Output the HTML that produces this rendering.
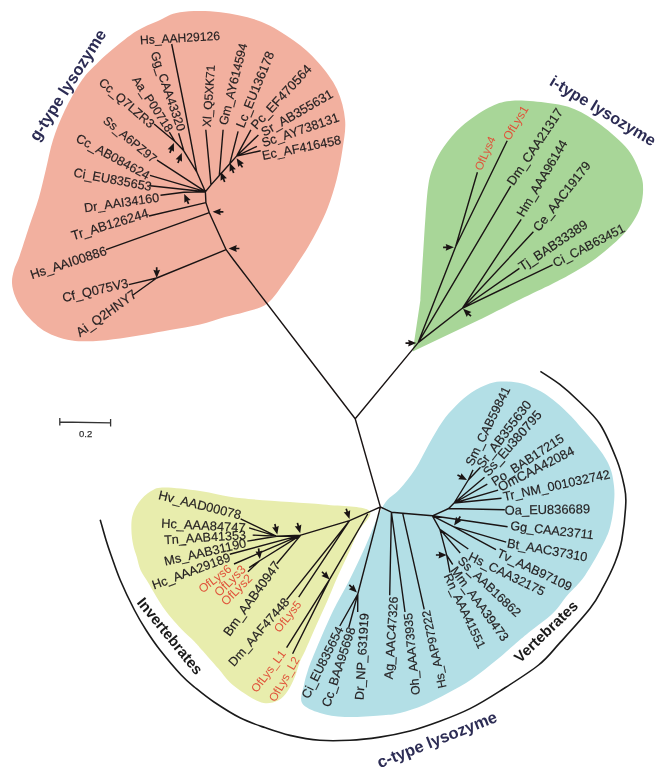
<!DOCTYPE html><html><head><meta charset="utf-8"><style>html,body{margin:0;padding:0;background:#fff;width:665px;height:772px;overflow:hidden}svg{display:block;will-change:transform}</style></head><body><svg width="665" height="772" viewBox="0 0 665 772"><path fill="#f2b09f" d="M180,12.2 C190.4,10.7 207.1,10.6 220.6,12.2 C234.1,13.8 249,17 261.2,21.7 C273.4,26.4 284.2,33.8 293.7,40.6 C303.2,47.4 310.8,54.2 318,62.3 C325.2,70.4 332.5,79.7 337,89.3 C341.5,98.9 344.2,109.9 345.1,120 C346,130.1 343.8,140 342.4,150 C341,160 338.9,170.5 336.5,180 C334.1,189.5 331,199 328,207 C325,215 321.8,221.4 318.5,228 C315.2,234.6 311.8,240.8 308.2,246.8 C304.6,252.8 300.8,258.3 297,264 C293.2,269.7 290.4,274.4 285.4,281 C280.4,287.6 273.7,298.6 267,303.8 C260.3,309 252,309.8 245,312 C238,314.2 232.5,314.9 225,317 C217.5,319.1 209.2,322.3 200,324.5 C190.8,326.7 179.2,328.3 170,330 C160.8,331.7 153.3,333.1 145,334.5 C136.7,335.9 128.7,337.4 120,338.5 C111.3,339.6 101,340.9 93,341.2 C85,341.5 78.3,341.4 72,340.5 C65.7,339.6 60.4,338.1 55,336 C49.6,333.9 44.8,331.7 39.7,327.7 C34.6,323.7 28.2,317.3 24.2,312.2 C20.1,307.1 17.4,301.9 15.4,297 C13.4,292.1 12.2,287.5 12,283 C11.8,278.5 12.8,274.4 14,270 C15.2,265.6 16.9,263.7 19.4,256.5 C21.9,249.3 25.8,236.8 29,227 C32.2,217.2 36,207.7 38.8,198 C41.6,188.3 43.6,178.7 46,169 C48.4,159.3 49.9,149.7 53,140 C56.1,130.3 59.7,121 64.5,111 C69.3,101 76.4,88.1 82,80 C87.6,71.9 92.8,67.8 98,62.5 C103.2,57.2 107.1,53.7 113.5,48.5 C119.9,43.3 128.8,35.9 136.2,31.3 C143.6,26.7 150.7,24.2 158,21 C165.3,17.8 169.6,13.7 180,12.2Z"/>
<path fill="#a8d698" d="M412.7,351.5 L420.4,300 C420.8,292.6 422.1,269.2 423,255.3 C423.9,241.4 424.6,228.4 425.5,216.5 C426.4,204.6 427.1,192.6 428.5,184 C429.9,175.4 431.4,170.9 434,164.7 C436.6,158.5 439.3,153 444,146.6 C448.7,140.2 454.5,132.5 462,126 C469.5,119.5 480.6,111.7 489,107.5 C497.4,103.3 502.4,101.5 512.2,100.8 C522,100 537.6,101.6 548,103 C558.4,104.4 565.9,105.5 574.7,109.2 C583.5,112.9 592.1,118.2 601,125 C609.9,131.8 621.7,141.7 628.3,150 C634.9,158.3 638.1,168 640.6,174.6 C643.1,181.2 643.1,184.1 643.1,189.4 C643.1,194.7 642.2,201.3 640.6,206.6 C639,211.9 636.4,216.3 633.5,221 C630.6,225.7 627.3,230.1 623.2,234.6 C619.1,239.1 614.2,243.3 608.7,248 C603.2,252.7 596.5,258.1 590,262.5 C583.5,266.9 576.3,270.9 570,274.5 C563.7,278.1 560.3,279.8 552,284 C543.7,288.2 532,293.6 520,299.5 C508,305.4 486.7,316.2 480,319.5 Z"/>
<path fill="#b3dfe6" d="M383.5,505.3 C389.1,496.1 394,495.6 399.3,489.6 C404.6,483.6 410.2,476.8 415.1,469.3 C420,461.8 424.2,452.3 428.7,444.4 C433.2,436.5 437.7,428.3 442.2,421.9 C446.7,415.5 450.8,411 455.7,406.1 C460.6,401.2 465.9,396.4 471.5,392.6 C477.1,388.8 484.2,385.4 489.6,383.5 C495,381.6 498.6,381.4 504,381.4 C509.4,381.4 516.8,382.3 522,383.5 C527.2,384.7 530.8,386.7 535,388.6 C539.2,390.6 543,392.5 547,395.2 C551,397.9 555.1,401.3 559.1,404.8 C563.1,408.3 567.5,412.6 571.1,416.3 C574.7,420 577.3,423.3 580.6,427.1 C583.9,430.9 587.6,434.9 591,439 C594.4,443.1 598.2,447.7 600.9,451.4 C603.6,455.1 605.2,457.6 607,461 C608.8,464.4 610.3,467.8 611.5,472 C612.7,476.2 613.5,481.3 614,486 C614.5,490.7 614.6,494.2 614.2,500 C613.8,505.8 613,514.3 611.5,521 C610,527.7 609.6,530.9 605.2,540 C600.8,549.1 591.3,566.2 585,575.4 C578.7,584.6 572.9,588.7 567.6,595 C562.3,601.3 559.5,606.8 553.1,613 C546.7,619.2 535.5,627 529,632.3 C522.5,637.6 519.5,640.4 514,645 C508.5,649.6 503.2,654.5 496.2,660.2 C489.2,665.9 480,673.5 472,679 C464,684.5 456,688.7 448,693 C440,697.3 432,701.7 424,705 C416,708.3 407.3,711.2 400,713 C392.7,714.8 389.2,714.8 380,715.5 C370.8,716.2 355,717.4 345,717 C335,716.6 327.2,715.3 320,713 C312.8,710.7 304.7,707.7 302,703 C299.3,698.3 303,690.5 304,685 C305,679.5 306.2,675.5 308,670 C309.8,664.5 310.9,661.7 315,652 C319.1,642.3 326.8,624 332.5,612 C338.2,600 343.9,591.2 349.5,580 C355.1,568.8 360.3,557.5 366,545 C371.7,532.5 377.9,514.5 383.5,505.3Z"/>
<path fill="#e8edad" d="M131.4,530 C131.3,525.1 131.2,520.5 132.4,515.9 C133.6,511.3 135.6,506.5 138.7,502.4 C141.8,498.2 146.7,493.5 151.1,491 C155.5,488.5 156.8,487.5 165,487.5 C173.2,487.5 187.2,489.2 200,491 C212.8,492.8 221.3,496.1 241.8,498.3 C262.3,500.5 301.8,502.4 323,504.4 C344.2,506.4 363.2,505.9 369,510.5 C374.8,515.1 361.4,524.9 358,532 C354.6,539.1 352.2,545.4 348.7,553.1 C345.2,560.8 340.6,569.9 337,578 C333.4,586.1 330.5,593.8 327,601.8 C323.5,609.8 319.6,618 316,626 C312.4,634 308.2,644 305.5,650 C302.8,656 301.6,657.6 299.8,662 C298.1,666.4 297,671.7 295,676.5 C293,681.3 290.5,686.9 287.7,690.9 C284.9,694.9 282.1,698.5 278.1,700.5 C274.1,702.5 268.7,703.7 263.7,702.9 C258.7,702.1 253.6,699.1 248,695.7 C242.4,692.3 234.9,687 230,682.5 C225.1,678 223,674 218.3,668.6 C213.6,663.2 205.9,654.5 201.9,650 C197.9,645.5 197.4,644.7 194.1,641.3 C190.8,637.9 185.8,633.8 182,629.8 C178.2,625.8 174.2,621.4 171,617.5 C167.8,613.6 165.2,610.5 162.5,606.5 C159.8,602.5 156.9,597.6 154.5,593.5 C152.1,589.4 150.1,585.9 147.8,582 C145.5,578.1 142.3,574.1 140.5,570 C138.7,565.9 138,561.3 136.8,557.1 C135.6,552.9 134.1,549.5 133.2,545 C132.3,540.5 131.5,534.9 131.4,530Z"/>
<path fill="none" stroke="#1a1a1a" stroke-width="1.6" d="M100.2,519.7 C101.2,523.1 104.2,534.1 106,540 C107.8,545.9 108.6,548.3 111,555 C113.4,561.7 116.3,570.8 120.2,580 C124.1,589.2 130.1,601.7 134.4,610 C138.7,618.3 141.7,623.3 146,630 C150.3,636.7 154.1,642.5 160,650 C165.9,657.5 175.4,668.8 181.2,675 C187,681.2 189.5,683 195,687.5 C200.5,692 206.5,697 214,702 C221.5,707 231.5,713.5 240,717.8 C248.5,722.1 256.5,724.7 264.8,727.6 C273.1,730.5 280.8,733.3 290,735.4 C299.2,737.5 309.8,739.5 319.8,740.3 C329.8,741.1 340,740.8 350,740.3 C360,739.8 369.8,738.6 379.8,737.1 C389.8,735.6 400,733.6 410,731 C420,728.4 429.8,724.9 439.8,721.2 C449.8,717.5 460,713.6 470,708.6 C480,703.6 488.4,698.4 499.8,691.1 C511.2,683.8 528.6,673 538.6,665 C548.6,657 551.2,652.3 559.8,642.9 C568.4,633.5 582.8,617.9 590,608.6 C597.2,599.3 599,594.9 603.1,587.2 C607.2,579.6 611.8,570.6 614.9,562.7 C618,554.8 620,550 621.8,540 C623.6,530 625.4,512.2 625.8,503 C626.2,493.8 625.5,492.2 624,485 C622.5,477.8 620.8,470.1 616.8,460 C612.8,449.9 606.5,434.1 600,424.2 C593.5,414.3 584.7,407.1 578,400.5 C571.3,393.9 566.1,389.3 559.8,384.4 C553.5,379.5 543.6,373.5 540.4,371.3"/>
<path fill="none" stroke="#1a1414" stroke-width="1.4" stroke-linejoin="round" d="M302.5,350 L355.2,418.8 L418.2,342.6 M355.2,418.8 L380.4,507 M302.5,350 L233.7,260 L226.1,249.7 L209.3,212.7 L205.9,202.6 L205.4,191.7 M209.3,212.7 L106,249.6 M226.1,249.7 L156.7,278 L133,295 M156.7,278 L128.8,284.6 M205.9,202.6 L149,216 M205.4,191.7 L183.8,192.3 M183.8,192.3 L160.5,195.2 M205.4,191.7 L150,185.8 M205.4,191.7 L150,175.3 M205.4,191.7 L157,160.2 M205.4,191.7 L196.7,171.8 L185,110 L171.7,44 M196.7,171.8 L183.8,150.8 L175,141.5 L154.1,124 M175,141.5 L169.3,132.2 M183.8,150.8 L178.6,133.3 M205.4,191.7 L211,184.9 L219.3,175.5 L229.8,163.7 L236.6,156.1 M211,184.9 L205.8,129.8 M219.3,175.5 L223.1,129.8 M229.8,163.7 L238.1,131.3 M236.6,156.1 L250.9,129.8 M236.6,156.1 L258.4,135 M236.6,156.1 L256.9,146.3 M236.6,156.1 L260.7,150.8 M418.2,342.6 L455.6,246.8 L477.4,172.2 M455.6,246.8 L507.2,140.7 M418.2,342.6 L510.7,186.2 M418.2,342.6 L462.3,308.3 L521.2,219.4 M462.3,308.3 L533.4,231.7 M462.3,308.3 L519.4,268.4 M462.3,308.3 L552.6,264.9 M380.4,507 L349.5,520.7 L300.8,535.1 L276.7,536.3 M276.7,536.3 L240.6,518.8 M276.7,536.3 L249.1,527.9 M276.7,536.3 L252.7,535.1 M276.7,536.3 L247.3,541.1 M300.8,535.1 L229.8,554.3 M300.8,535.1 L234,564 M300.8,535.1 L259.3,561 L249.1,567.6 M259.3,561 L247.9,571.8 M300.8,535.1 L276.7,563.8 M349.5,520.7 L286.6,599.6 M349.5,520.7 L298.7,597.2 M367.7,514 L329.6,579.4 L286.6,647.7 M329.6,579.4 L292.6,653.8 M380.4,507 L357.8,594 M357.8,594 L339.8,626 M357.8,594 L348.8,627.3 M357.8,594 L357.7,612 M380.4,507 L391.4,512.2 L402.7,513.3 L432.4,515.8 M391.4,512.2 L389.7,595.3 M391.4,512.2 L405,612 M402.7,513.3 L424.2,609.4 M432.4,515.8 L448.7,508.5 L454.1,503 L468.3,480 M448.7,508.5 L504.8,509.8 M454.1,503 L501.5,498.3 M454.1,503 L498.1,490.2 M454.1,503 L487.3,484.1 M454.1,503 L484.5,477.3 M468.3,480 L480.5,467.2 M468.3,480 L473,469.9 M432.4,515.8 L507.6,526.7 M432.4,515.8 L453.4,526.7 L506.2,542.2 M453.4,526.7 L496,549.7 M432.4,515.8 L439.9,529.4 L468.3,549 M439.9,529.4 L460.2,553 M439.9,529.4 L446.7,555.1 L452.7,564.5 M446.7,555.1 L450,572.7"/>
<g fill="#1a1414"><path transform="translate(212.6,211.8) rotate(180)" d="M0,0 L-8.2,-3.4 L-7.3,0 L-8.2,3.4Z M-7.3,-0.85 L-10.8,-0.85 L-10.8,0.85 L-7.3,0.85Z"/><path transform="translate(228.6,248.5) rotate(180)" d="M0,0 L-8.2,-3.4 L-7.3,0 L-8.2,3.4Z M-7.3,-0.85 L-10.8,-0.85 L-10.8,0.85 L-7.3,0.85Z"/><path transform="translate(156.7,278) rotate(90)" d="M0,0 L-8.2,-3.4 L-7.3,0 L-8.2,3.4Z M-7.3,-0.85 L-10.8,-0.85 L-10.8,0.85 L-7.3,0.85Z"/><path transform="translate(184.2,194) rotate(-114)" d="M0,0 L-8.2,-3.4 L-7.3,0 L-8.2,3.4Z M-7.3,-0.85 L-10.8,-0.85 L-10.8,0.85 L-7.3,0.85Z"/><path transform="translate(173.9,142.9) rotate(-68)" d="M0,0 L-8.2,-3.4 L-7.3,0 L-8.2,3.4Z M-7.3,-0.85 L-10.8,-0.85 L-10.8,0.85 L-7.3,0.85Z"/><path transform="translate(181.8,152.9) rotate(-69)" d="M0,0 L-8.2,-3.4 L-7.3,0 L-8.2,3.4Z M-7.3,-0.85 L-10.8,-0.85 L-10.8,0.85 L-7.3,0.85Z"/><path transform="translate(220.8,171.9) rotate(-111)" d="M0,0 L-8.2,-3.4 L-7.3,0 L-8.2,3.4Z M-7.3,-0.85 L-10.8,-0.85 L-10.8,0.85 L-7.3,0.85Z"/><path transform="translate(229.8,162.9) rotate(-111)" d="M0,0 L-8.2,-3.4 L-7.3,0 L-8.2,3.4Z M-7.3,-0.85 L-10.8,-0.85 L-10.8,0.85 L-7.3,0.85Z"/><path transform="translate(236.6,158.3) rotate(-123)" d="M0,0 L-8.2,-3.4 L-7.3,0 L-8.2,3.4Z M-7.3,-0.85 L-10.8,-0.85 L-10.8,0.85 L-7.3,0.85Z"/><path transform="translate(416.3,343.1) rotate(0)" d="M0,0 L-8.2,-3.4 L-7.3,0 L-8.2,3.4Z M-7.3,-0.85 L-10.8,-0.85 L-10.8,0.85 L-7.3,0.85Z"/><path transform="translate(453.9,247.3) rotate(0)" d="M0,0 L-8.2,-3.4 L-7.3,0 L-8.2,3.4Z M-7.3,-0.85 L-10.8,-0.85 L-10.8,0.85 L-7.3,0.85Z"/><path transform="translate(463.1,308.8) rotate(-137)" d="M0,0 L-8.2,-3.4 L-7.3,0 L-8.2,3.4Z M-7.3,-0.85 L-10.8,-0.85 L-10.8,0.85 L-7.3,0.85Z"/><path transform="translate(349.5,519) rotate(72)" d="M0,0 L-8.2,-3.4 L-7.3,0 L-8.2,3.4Z M-7.3,-0.85 L-10.8,-0.85 L-10.8,0.85 L-7.3,0.85Z"/><path transform="translate(300.2,533.3) rotate(75)" d="M0,0 L-8.2,-3.4 L-7.3,0 L-8.2,3.4Z M-7.3,-0.85 L-10.8,-0.85 L-10.8,0.85 L-7.3,0.85Z"/><path transform="translate(277.3,534.5) rotate(77)" d="M0,0 L-8.2,-3.4 L-7.3,0 L-8.2,3.4Z M-7.3,-0.85 L-10.8,-0.85 L-10.8,0.85 L-7.3,0.85Z"/><path transform="translate(259.9,559.1) rotate(83)" d="M0,0 L-8.2,-3.4 L-7.3,0 L-8.2,3.4Z M-7.3,-0.85 L-10.8,-0.85 L-10.8,0.85 L-7.3,0.85Z"/><path transform="translate(329.6,579.4) rotate(45)" d="M0,0 L-8.2,-3.4 L-7.3,0 L-8.2,3.4Z M-7.3,-0.85 L-10.8,-0.85 L-10.8,0.85 L-7.3,0.85Z"/><path transform="translate(356.9,592.6) rotate(45)" d="M0,0 L-8.2,-3.4 L-7.3,0 L-8.2,3.4Z M-7.3,-0.85 L-10.8,-0.85 L-10.8,0.85 L-7.3,0.85Z"/><path transform="translate(467,480) rotate(28)" d="M0,0 L-8.2,-3.4 L-7.3,0 L-8.2,3.4Z M-7.3,-0.85 L-10.8,-0.85 L-10.8,0.85 L-7.3,0.85Z"/><path transform="translate(454.1,525.4) rotate(125)" d="M0,0 L-8.2,-3.4 L-7.3,0 L-8.2,3.4Z M-7.3,-0.85 L-10.8,-0.85 L-10.8,0.85 L-7.3,0.85Z"/><path transform="translate(446.7,555) rotate(0)" d="M0,0 L-8.2,-3.4 L-7.3,0 L-8.2,3.4Z M-7.3,-0.85 L-10.8,-0.85 L-10.8,0.85 L-7.3,0.85Z"/></g>
<g font-family="Liberation Sans, sans-serif" stroke-width="0.18"><text transform="translate(140,40) rotate(-3.3)" dy="0.36em" fill="#231f20" stroke="#231f20" font-size="12.1">Hs_AAH29126</text><text transform="translate(182.1,130.5) rotate(70.8)" dy="0.36em" fill="#231f20" stroke="#231f20" font-size="12.4" text-anchor="end">Gg_CAA43320</text><text transform="translate(170.5,130.5) rotate(56.6)" dy="0.36em" fill="#231f20" stroke="#231f20" font-size="12.2" text-anchor="end">Aa_P00718</text><text transform="translate(153,125.3) rotate(40.8)" dy="0.36em" fill="#231f20" stroke="#231f20" font-size="12.4" text-anchor="end">Cc_Q7LZR3</text><text transform="translate(155.3,160) rotate(39.6)" dy="0.36em" fill="#231f20" stroke="#231f20" font-size="12.2" text-anchor="end">Ss_A6PZ97</text><text transform="translate(149,176) rotate(28.5)" dy="0.36em" fill="#231f20" stroke="#231f20" font-size="12.7" text-anchor="end">Cc_AB084624</text><text transform="translate(151.6,186.5) rotate(10.5)" dy="0.36em" fill="#231f20" stroke="#231f20" font-size="12.7" text-anchor="end">Ci_EU835653</text><text transform="translate(159,197) rotate(-8.1)" dy="0.36em" fill="#231f20" stroke="#231f20" font-size="12.6" text-anchor="end">Dr_AAI34160</text><text transform="translate(148,212.5) rotate(-16.9)" dy="0.36em" fill="#231f20" stroke="#231f20" font-size="13" text-anchor="end">Tr_AB126244</text><text transform="translate(106,250) rotate(-18.2)" dy="0.36em" fill="#231f20" stroke="#231f20" font-size="12.9" text-anchor="end">Hs_AAI00886</text><text transform="translate(128,282.5) rotate(-13.1)" dy="0.36em" fill="#231f20" stroke="#231f20" font-size="12.9" text-anchor="end">Cf_Q075V3</text><text transform="translate(135,292.5) rotate(-35.4)" dy="0.36em" fill="#231f20" stroke="#231f20" font-size="13" text-anchor="end">Ai_Q2HNY7</text><text transform="translate(206.4,126.9) rotate(-86.1)" dy="0.36em" fill="#231f20" stroke="#231f20" font-size="11.9">Xl_Q5XK71</text><text transform="translate(222.6,124.7) rotate(-75.8)" dy="0.36em" fill="#231f20" stroke="#231f20" font-size="12.4">Gm_AY614594</text><text transform="translate(239.5,127) rotate(-67.7)" dy="0.36em" fill="#231f20" stroke="#231f20" font-size="12.8">Lc_EU136178</text><text transform="translate(253,127) rotate(-47.2)" dy="0.36em" fill="#231f20" stroke="#231f20" font-size="13">Pc_EF470564</text><text transform="translate(262,132.6) rotate(-29.8)" dy="0.36em" fill="#231f20" stroke="#231f20" font-size="12.9">Sr_AB355631</text><text transform="translate(262,143) rotate(-19.1)" dy="0.36em" fill="#231f20" stroke="#231f20" font-size="12.8">Sc_AY738131</text><text transform="translate(262,155.5) rotate(-11.5)" dy="0.36em" fill="#231f20" stroke="#231f20" font-size="12.7">Ec_AF416458</text><text transform="translate(477.7,169.7) rotate(-66.3)" dy="0.36em" fill="#e0533a" font-size="11.4">OfLys4</text><text transform="translate(505.8,139) rotate(-59.1)" dy="0.36em" fill="#e0533a" font-size="12.1">OfLys1</text><text transform="translate(509.6,183.7) rotate(-56)" dy="0.36em" fill="#231f20" stroke="#231f20" font-size="12.9">Dm_CAA21317</text><text transform="translate(519.6,215.5) rotate(-59.3)" dy="0.36em" fill="#231f20" stroke="#231f20" font-size="12.6">Hm_AAA96144</text><text transform="translate(535.5,229.5) rotate(-51.8)" dy="0.36em" fill="#231f20" stroke="#231f20" font-size="12.7">Ce_AAC19179</text><text transform="translate(519.6,267.4) rotate(-33.8)" dy="0.36em" fill="#231f20" stroke="#231f20" font-size="13">Tj_BAB33389</text><text transform="translate(553.4,263.4) rotate(-27.2)" dy="0.36em" fill="#231f20" stroke="#231f20" font-size="12.5">Ci_CAB63451</text><text transform="translate(241,515) rotate(14)" dy="0.36em" fill="#231f20" stroke="#231f20" font-size="12.8" text-anchor="end">Hv_AAD00078</text><text transform="translate(245.6,527.6) rotate(3.2)" dy="0.36em" fill="#231f20" stroke="#231f20" font-size="12.9" text-anchor="end">Hc_AAA84747</text><text transform="translate(245.9,534.6) rotate(-3.5)" dy="0.36em" fill="#231f20" stroke="#231f20" font-size="12.6" text-anchor="end">Tn_AAB41353</text><text transform="translate(245.9,542.5) rotate(-12.9)" dy="0.36em" fill="#231f20" stroke="#231f20" font-size="12.7" text-anchor="end">Ms_AAB31190</text><text transform="translate(229.8,556.5) rotate(-20.4)" dy="0.36em" fill="#231f20" stroke="#231f20" font-size="12.6" text-anchor="end">Hc_AAA29189</text><text transform="translate(229.8,567) rotate(-37.5)" dy="0.36em" fill="#e0533a" font-size="12.1" text-anchor="end">OfLys6</text><text transform="translate(243.4,567) rotate(-44.9)" dy="0.36em" fill="#e0533a" font-size="12.3" text-anchor="end">OfLys3</text><text transform="translate(250,576) rotate(-45)" dy="0.36em" fill="#e0533a" font-size="12.3" text-anchor="end">OfLys2</text><text transform="translate(277.2,562.5) rotate(-54.4)" dy="0.36em" fill="#231f20" stroke="#231f20" font-size="12.9" text-anchor="end">Bm_AAB40947</text><text transform="translate(286.6,599.6) rotate(-49.1)" dy="0.36em" fill="#231f20" stroke="#231f20" font-size="12.5" text-anchor="end">Dm_AAF47448</text><text transform="translate(298.7,602) rotate(-51.9)" dy="0.36em" fill="#e0533a" font-size="11.6" text-anchor="end">OfLys5</text><text transform="translate(283,651.4) rotate(-53.1)" dy="0.36em" fill="#e0533a" font-size="11.6" text-anchor="end">OfLys_L1</text><text transform="translate(296.2,657.4) rotate(-60.3)" dy="0.36em" fill="#e0533a" font-size="11.7" text-anchor="end">OfLys_L2</text><text transform="translate(339.8,627.3) rotate(-63.4)" dy="0.36em" fill="#231f20" stroke="#231f20" font-size="12.6" text-anchor="end">Ci_EU835654</text><text transform="translate(351.3,627.3) rotate(-71.9)" dy="0.36em" fill="#231f20" stroke="#231f20" font-size="12.7" text-anchor="end">Cc_BAA95698</text><text transform="translate(364.1,613.2) rotate(-86.6)" dy="0.36em" fill="#231f20" stroke="#231f20" font-size="12.6" text-anchor="end">Dr_NP_631919</text><text transform="translate(393.5,596.6) rotate(-86.4)" dy="0.36em" fill="#231f20" stroke="#231f20" font-size="12.5" text-anchor="end">Ag_AAC47326</text><text transform="translate(407.6,613.2) rotate(-95.5)" dy="0.36em" fill="#231f20" stroke="#231f20" font-size="12.3" text-anchor="end">Oh_AAA73935</text><text transform="translate(425.5,610.7) rotate(-102.2)" dy="0.36em" fill="#231f20" stroke="#231f20" font-size="12.1" text-anchor="end">Hs_AAP97222</text><text transform="translate(468.6,464.7) rotate(-63.9)" dy="0.36em" fill="#231f20" stroke="#231f20" font-size="12.5">Sm_CAB59841</text><text transform="translate(479.1,466.2) rotate(-52.5)" dy="0.36em" fill="#231f20" stroke="#231f20" font-size="13">Sr_AB355630</text><text transform="translate(485.1,473.8) rotate(-48.8)" dy="0.36em" fill="#231f20" stroke="#231f20" font-size="13">Ss_Eu380795</text><text transform="translate(492.6,482.3) rotate(-33.1)" dy="0.36em" fill="#231f20" stroke="#231f20" font-size="12.7">Po_BAB17215</text><text transform="translate(498.6,487.5) rotate(-27)" dy="0.36em" fill="#231f20" stroke="#231f20" font-size="13">OmCAA42084</text><text transform="translate(503.2,496.5) rotate(-12.1)" dy="0.36em" fill="#231f20" stroke="#231f20" font-size="12.7">Tr_NM_001032742</text><text transform="translate(504.7,510) rotate(-1)" dy="0.36em" fill="#231f20" stroke="#231f20" font-size="12.9">Oa_EU836689</text><text transform="translate(510.5,525.3) rotate(6.5)" dy="0.36em" fill="#231f20" stroke="#231f20" font-size="12.6">Gg_CAA23711</text><text transform="translate(507.4,542.6) rotate(10.2)" dy="0.36em" fill="#231f20" stroke="#231f20" font-size="12.8">Bt_AAC37310</text><text transform="translate(497.9,552.1) rotate(25.5)" dy="0.36em" fill="#231f20" stroke="#231f20" font-size="12.6">Tv_AAB97109</text><text transform="translate(469.5,555.3) rotate(26.1)" dy="0.36em" fill="#231f20" stroke="#231f20" font-size="12.6">Hs_CAA32175</text><text transform="translate(460,558.4) rotate(43.4)" dy="0.36em" fill="#231f20" stroke="#231f20" font-size="12.5">Ss_AAB16862</text><text transform="translate(453.7,567.9) rotate(53.8)" dy="0.36em" fill="#231f20" stroke="#231f20" font-size="12.7">Mm_AAA39473</text><text transform="translate(447.4,574.2) rotate(64.5)" dy="0.36em" fill="#231f20" stroke="#231f20" font-size="12.3">Rn_AAA41551</text></g>
<g font-family="Liberation Sans, sans-serif"><text transform="translate(33,139) rotate(-57.5)" dy="0.36em" fill="#2c2c54" font-size="16.5" font-weight="bold">g-type lysozyme</text><text transform="translate(551.5,79.5) rotate(31)" dy="0.36em" fill="#2c2c54" font-size="16.2" font-weight="bold">i-type lysozyme</text><text transform="translate(377.6,762.7) rotate(-21.6)" dy="0.36em" fill="#2c2c54" font-size="16.5" font-weight="bold">c-type lysozyme</text><text transform="translate(516.3,659.5) rotate(-43.7)" dy="0.36em" fill="#1a1a1a" font-size="15" font-weight="bold">Vertebrates</text><text transform="translate(140.4,599.3) rotate(50.8)" dy="0.36em" fill="#1a1a1a" font-size="15" font-weight="bold">Invertebrates</text></g>
<path fill="none" stroke="#333" stroke-width="1.3" d="M59.8,422 L110.6,422.8 M59.8,418 L59.8,425.6 M110.6,419 L110.6,426.4"/>
<text x="85.6" y="436.6" text-anchor="middle" font-size="9.5" fill="#333" stroke="#333" stroke-width="0.25" font-family="Liberation Sans, sans-serif">0.2</text></svg></body></html>
